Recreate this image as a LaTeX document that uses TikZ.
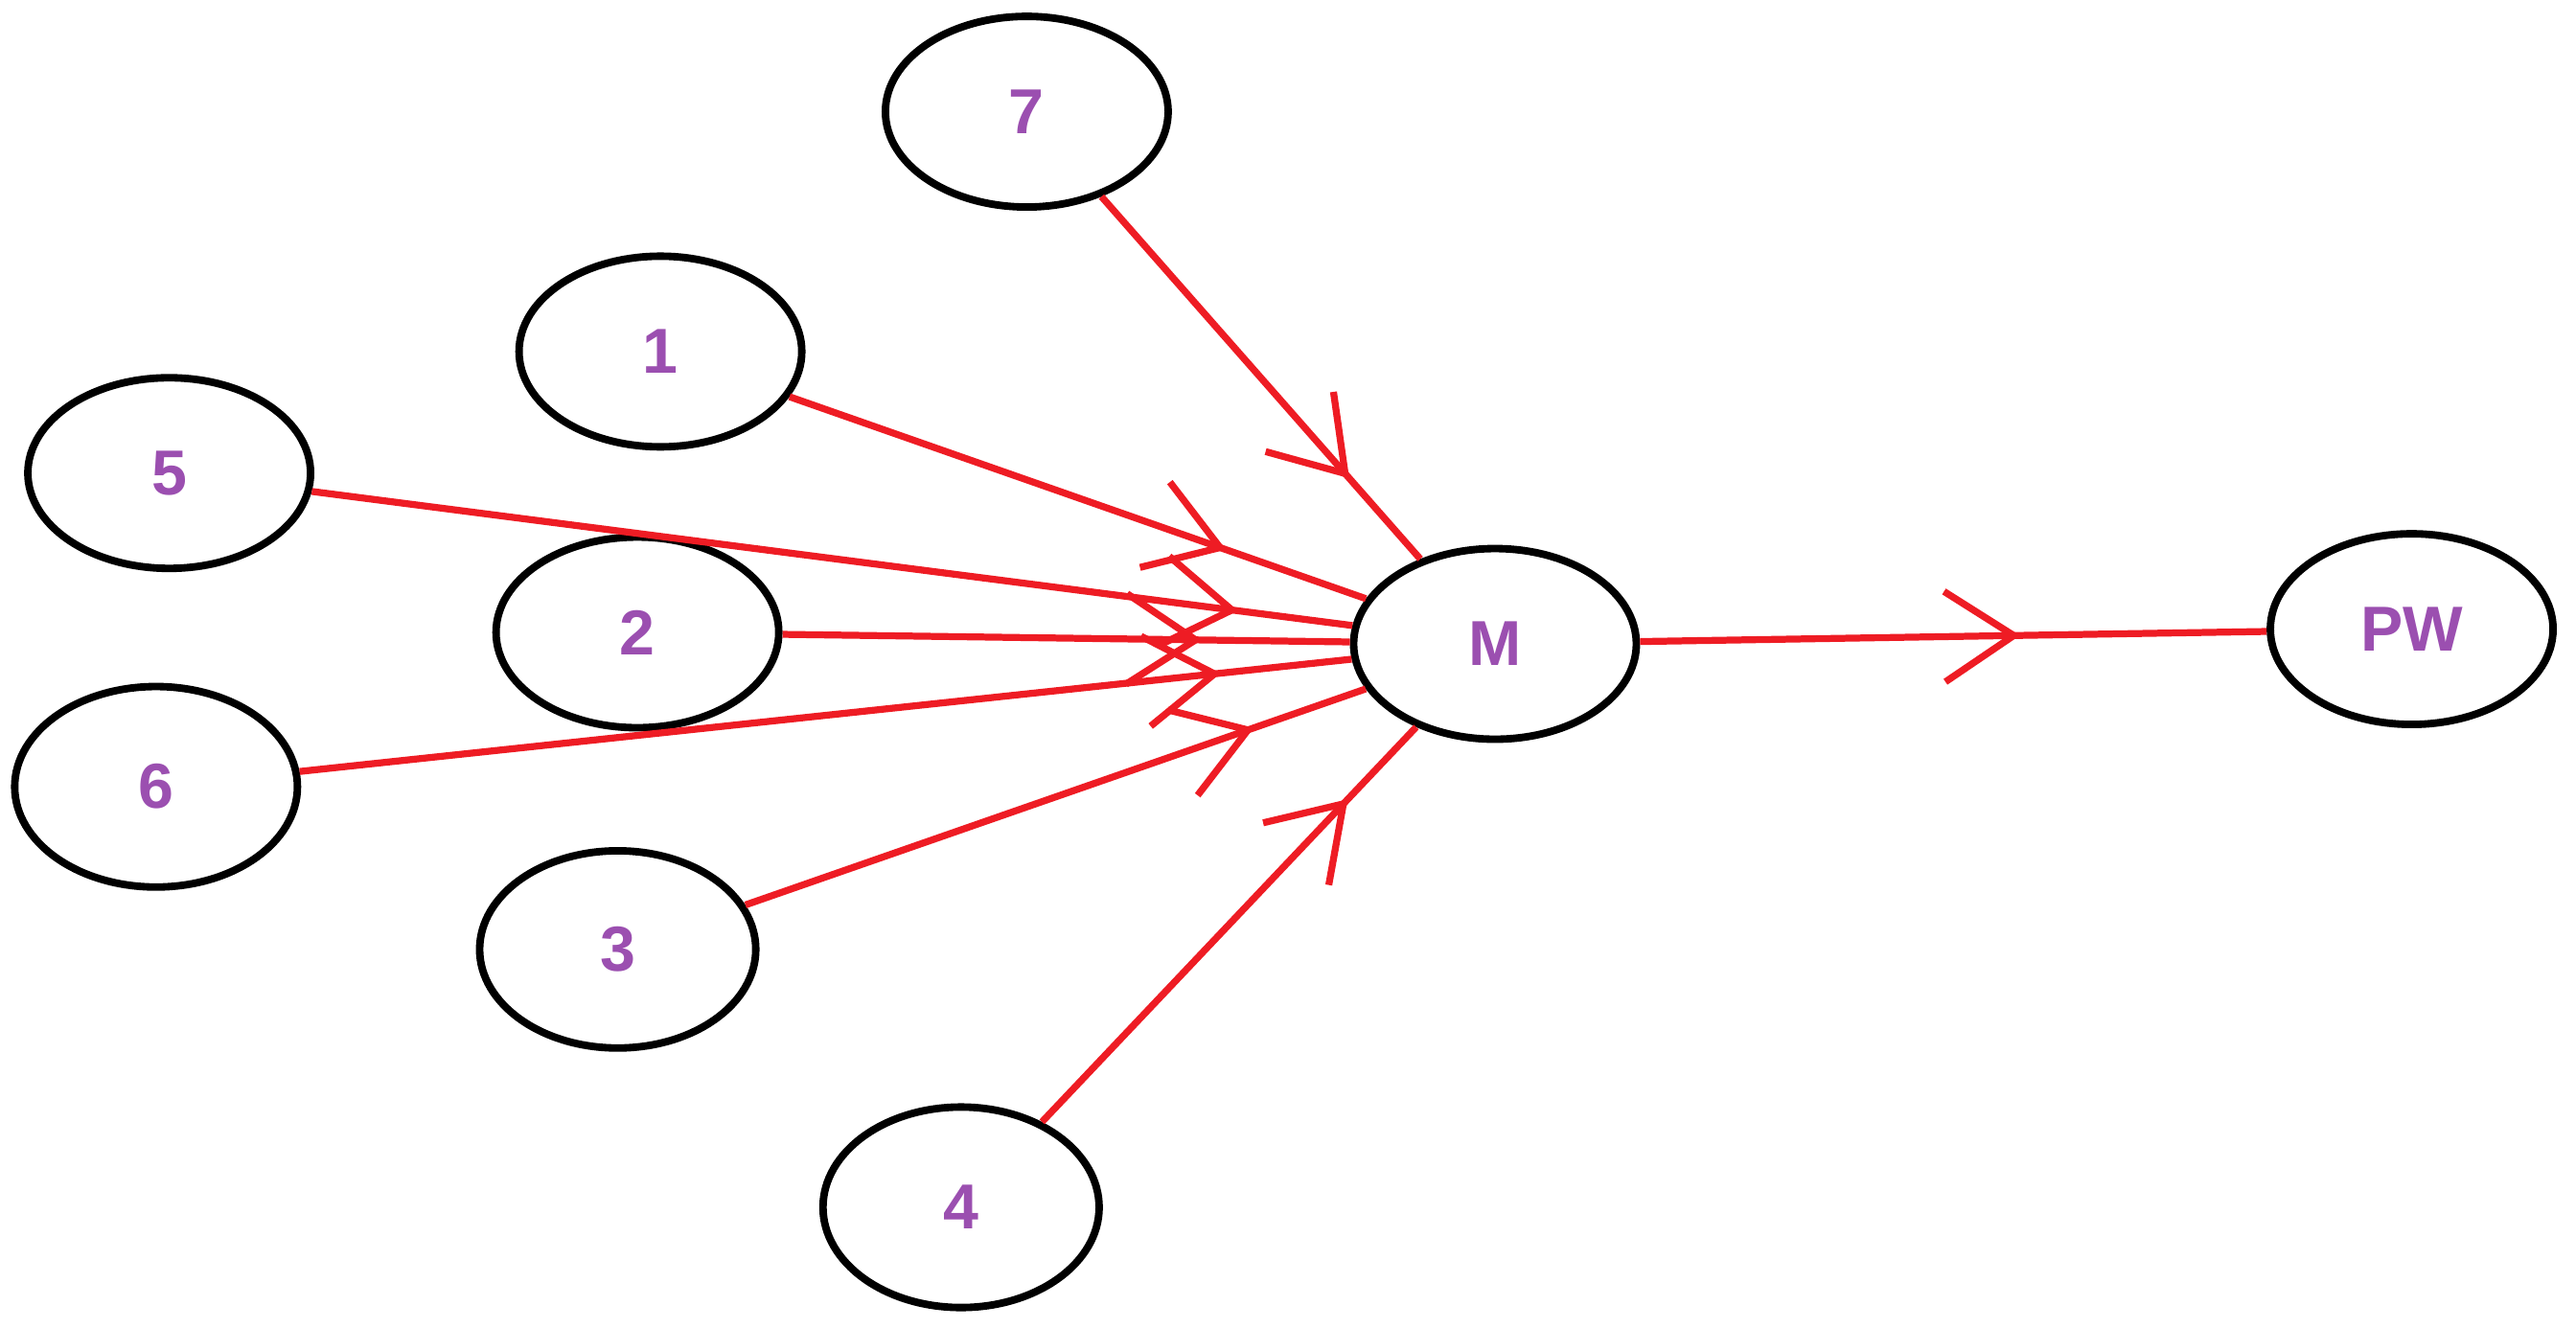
\documentclass[tikz,border=0pt]{standalone}
\usepackage{fontspec}
\setmainfont{Liberation Sans}
\usetikzlibrary{arrows.meta,decorations.markings,shapes.geometric}
\definecolor{lbl}{HTML}{9B4FB0}
\definecolor{lnk}{HTML}{EE1C24}
\begin{document}
\begin{tikzpicture}[x=0.01cm,y=-0.01cm,
  st/.style={ellipse,draw=black,line width=1.3pt,minimum width=1.72cm,minimum height=1.16cm,inner sep=0pt,text=lbl,font=\fontsize{11}{13}\selectfont\bfseries},
  ln/.style={draw=lnk,line width=1.2pt,postaction={decorate},decoration={markings,mark=at position -#1 with {\arrow{Straight Barb[length=0.42cm,width=0.55cm,line width=1.2pt]}}}},
  ln/.default=0.75cm]
\useasboundingbox (0,0) rectangle (1568,808);
\node[st] (n7) at (625,68) {7};
\node[st] (n1) at (402,214) {1};
\node[st] (n5) at (103,288) {5};
\node[st] (n2) at (388,385) {2};
\node[st,minimum height=1.22cm] (n6) at (95,479) {6};
\node[st,minimum width=1.68cm,minimum height=1.2cm] (n3) at (376,578) {3};
\node[st,minimum width=1.68cm,minimum height=1.22cm] (n4) at (585,735) {4};
\node[st] (M) at (910,392) {M};
\node[st] (PW) at (1468,383) {PW};
\draw[ln=0.65cm] (n7) -- (M);
\draw[ln=0.9cm] (n1) -- (M);
\draw[ln=0.7cm] (n5) -- (M);
\draw[ln=0.9cm] (n2) -- (M);
\draw[ln=0.8cm] (n6) -- (M);
\draw[ln=0.72cm] (n3) -- (M);
\draw[ln=0.6cm] (n4) -- (M);
\draw[ln=1.5cm] (M) -- (PW);
\end{tikzpicture}
\end{document}
